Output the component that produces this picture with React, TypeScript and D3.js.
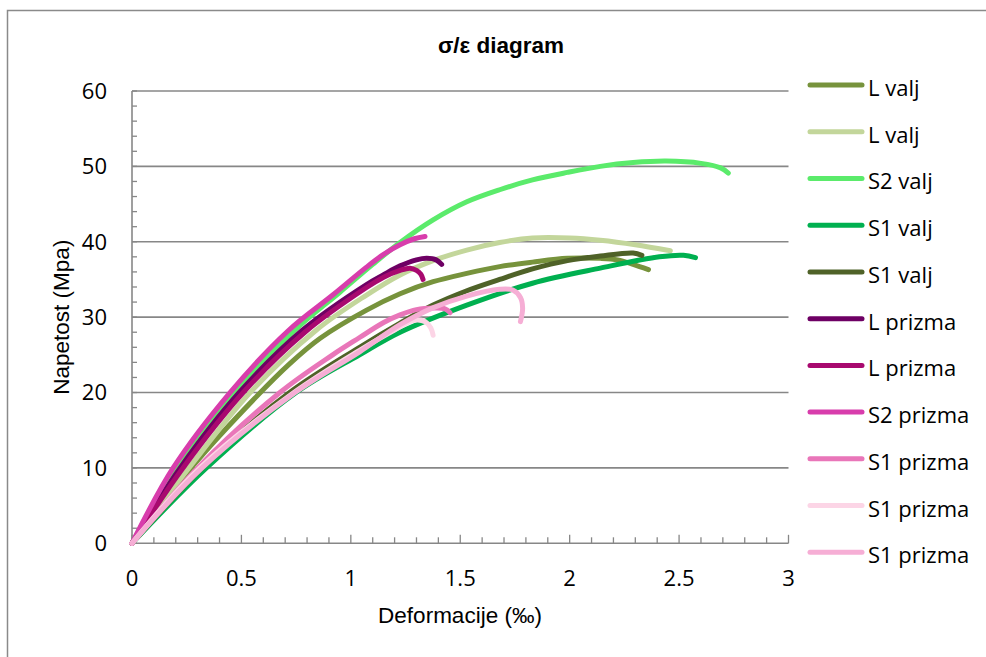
import React from "react";
import * as d3 from "d3";

// σ/ε curves, [deformation ‰, stress MPa]
const lValjA = [[0, 0], [0.27, 10], [0.56, 19.2], [0.72, 23.8], [0.86, 27.2], [1.07, 30.9], [1.225, 33.1], [1.376, 34.7], [1.53, 35.8], [1.68, 36.7], [1.83, 37.3], [1.99, 37.8], [2.14, 37.8], [2.22, 37.6], [2.29, 37.0], [2.36, 36.3]];
const lValjB = [[0, 0], [0.26, 10], [0.54, 20], [0.843, 28.3], [1.07, 32.9], [1.225, 35.6], [1.376, 37.5], [1.53, 38.9], [1.68, 39.9], [1.83, 40.5], [2.0, 40.5], [2.14, 40.2], [2.3, 39.6], [2.46, 38.8]];
const s2Valj = [[0, 0], [0.2, 10], [0.47, 20], [0.745, 28.3], [0.95, 33.3], [1.1, 37.0], [1.225, 39.9], [1.376, 42.9], [1.53, 45.3], [1.68, 46.9], [1.83, 48.2], [1.99, 49.2], [2.14, 50.0], [2.29, 50.5], [2.44, 50.7], [2.6, 50.4], [2.69, 49.8], [2.725, 49.1]];
const s1ValjA = [[0, 0], [0.34, 10], [0.75, 20], [1.04, 25.0], [1.225, 28.0], [1.53, 31.6], [1.83, 34.5], [2.14, 36.5], [2.41, 38.0], [2.52, 38.2], [2.575, 37.9]];
const s1ValjB = [[0, 0], [0.32, 10], [0.72, 20], [1.04, 26.0], [1.225, 29.2], [1.376, 31.6], [1.53, 33.5], [1.68, 35.0], [1.83, 36.4], [1.99, 37.5], [2.14, 38.1], [2.29, 38.5], [2.33, 38.2]];
const lPrizmaA = [[0, 0], [0.22, 10], [0.49, 20], [0.78, 28.3], [1.07, 34.3], [1.148, 35.6], [1.225, 36.8], [1.3, 37.6], [1.347, 37.8], [1.39, 37.6], [1.415, 37.0]];
const lPrizmaB = [[0, 0], [0.233, 10], [0.508, 20], [0.79, 28.0], [1.07, 33.9], [1.15, 35.3], [1.225, 36.2], [1.27, 36.5], [1.3, 36.2], [1.32, 35.7], [1.33, 35.0]];
const s2Prizma = [[0, 0], [0.188, 10], [0.448, 20], [0.71, 28.1], [0.92, 33.0], [1.07, 36.6], [1.148, 38.3], [1.225, 39.6], [1.29, 40.4], [1.339, 40.7]];
const s1PrizmaA = [[0, 0], [0.3, 10], [0.676, 20], [0.917, 25.0], [1.04, 27.3], [1.15, 29.3], [1.225, 30.3], [1.3, 31.0], [1.38, 31.2], [1.43, 31.1], [1.453, 30.6]];
const s1PrizmaB = [[0, 0], [0.31, 10], [0.74, 20], [1.04, 25.6], [1.2, 28.3], [1.29, 29.6], [1.34, 29.4], [1.365, 28.6], [1.376, 27.6]];
const s1PrizmaC = [[0, 0], [0.32, 10], [0.745, 20], [1.04, 25.4], [1.225, 29.0], [1.38, 31.3], [1.53, 32.8], [1.68, 33.7], [1.74, 33.6], [1.775, 32.6], [1.785, 31.2], [1.775, 29.4]];

const seriesData = [lValjA, lValjB, s2Valj, s1ValjA, s1ValjB, lPrizmaA, lPrizmaB, s2Prizma, s1PrizmaA, s1PrizmaB, s1PrizmaC];
const seriesNames = ["L valj", "L valj", "S2 valj", "S1 valj", "S1 valj", "L prizma", "L prizma", "S2 prizma", "S1 prizma", "S1 prizma", "S1 prizma"];
const seriesColors = ["#77933C", "#C3D69B", "#5BEB6B", "#00B050", "#4F6228", "#6E0064", "#A8096F", "#D83DAC", "#E976B9", "#FCD5E6", "#F6AED5"];

const yTicks = [0, 10, 20, 30, 40, 50, 60];
const xTicks = [0, 0.5, 1, 1.5, 2, 2.5, 3];

const tickFont = "'Open Sans', sans-serif";
const titleFont = "'Liberation Sans', Arial, sans-serif";

export default function App() {
  const x = d3.scaleLinear().domain([0, 3]).range([132, 788.5]);
  const y = d3.scaleLinear().domain([0, 60]).range([543.3, 91]);

  const line = d3
    .line<number[]>()
    .x((d) => x(d[0]))
    .y((d) => y(d[1]))
    .curve(d3.curveCatmullRom.alpha(0.5));

  const minorY = d3.range(0, 61, 2);
  const minorX = d3.range(0, 31).map((i) => i / 10);

  const legendY = d3.scaleLinear().domain([0, 10]).range([85, 552.3]);

  return (
    <svg width={986} height={657} style={{ position: "absolute", left: 0, top: 0, background: "#fff" }}>
      <rect x={7.5} y={10.5} width={1000} height={700} fill="#fff" stroke="#8a8a8a" strokeWidth={1.5} />

      <text x={501} y={53} textAnchor="middle" fontFamily={titleFont} fontWeight="bold" fontSize={22.5}>
        σ/ε diagram
      </text>

      {/* grid */}
      {yTicks.map((t) => (
        <line key={"g" + t} x1={x(0)} x2={x(3)} y1={y(t)} y2={y(t)} stroke="#878787" strokeWidth={1.6} />
      ))}
      <line x1={x(0)} x2={x(0)} y1={y(60)} y2={y(0)} stroke="#878787" strokeWidth={1.6} />

      {minorY.map((t) => (
        <line key={"my" + t} x1={x(0)} x2={x(0) + 5} y1={y(t)} y2={y(t)} stroke="#878787" strokeWidth={1.3} />
      ))}
      {minorX.map((t, i) => (
        <line key={"mx" + i} x1={x(t)} x2={x(t)} y1={y(0)} y2={y(0) - (i % 5 === 0 ? 8.5 : 6)} stroke="#878787" strokeWidth={1.3} />
      ))}

      {yTicks.map((t) => (
        <text key={"yl" + t} x={107} y={y(t)} dy="0.36em" textAnchor="end" fontFamily={tickFont} fontSize={22}>
          {t}
        </text>
      ))}
      {xTicks.map((t) => (
        <text key={"xl" + t} x={x(t)} y={586} textAnchor="middle" fontFamily={tickFont} fontSize={22}>
          {t}
        </text>
      ))}

      <text x={460} y={622.5} textAnchor="middle" fontFamily={titleFont} fontSize={22.5}>
        Deformacije (‰)
      </text>
      <text transform={`translate(69,${(y(0) + y(60)) / 2}) rotate(-90)`} textAnchor="middle" fontFamily={titleFont} fontSize={22.5}>
        Napetost (Mpa)
      </text>

      {/* curves */}
      {seriesData.map((d, i) => (
        <path key={"s" + i} d={line(d) || ""} fill="none" stroke={seriesColors[i]} strokeWidth={5} strokeLinecap="round" strokeLinejoin="round" />
      ))}

      {/* legend */}
      {seriesNames.map((name, i) => (
        <g key={"lg" + i}>
          <line x1={810} x2={862} y1={legendY(i)} y2={legendY(i)} stroke={seriesColors[i]} strokeWidth={5} strokeLinecap="round" />
          <text x={868} y={legendY(i) + 11} fontFamily={tickFont} fontSize={22}>
            {name}
          </text>
        </g>
      ))}
    </svg>
  );
}
